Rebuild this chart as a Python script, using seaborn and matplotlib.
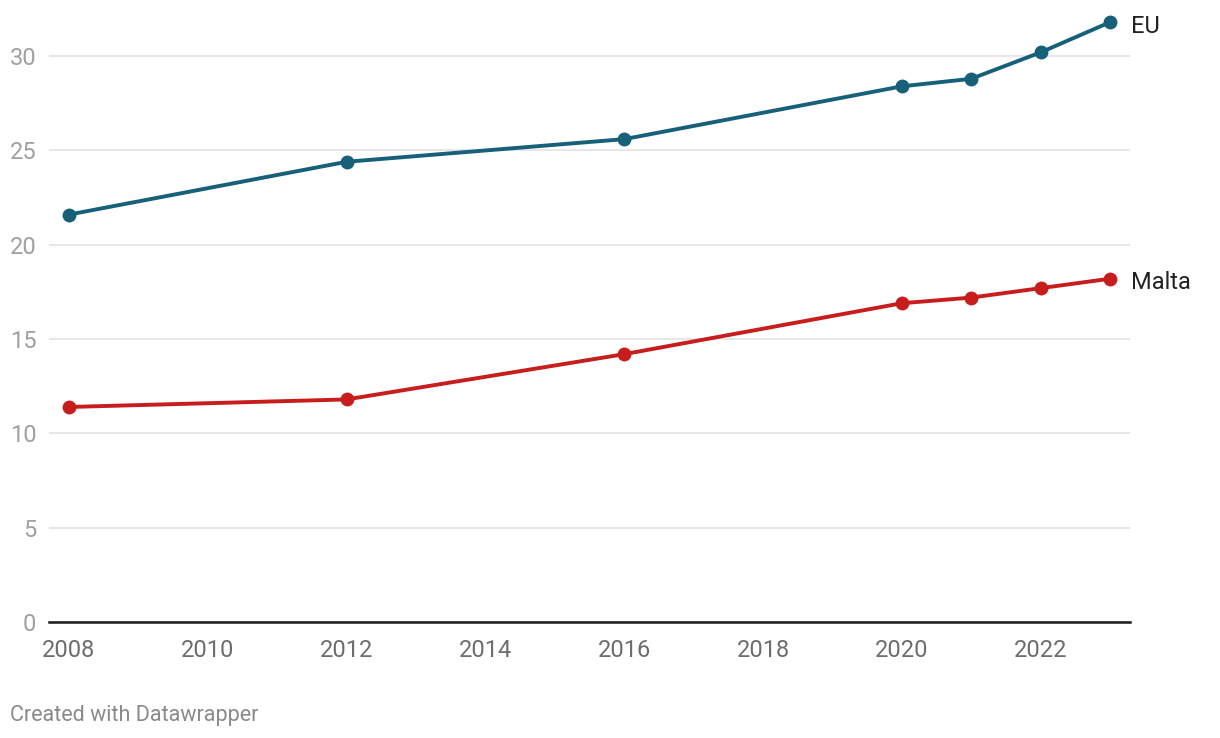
import numpy as np
import pandas as pd
import matplotlib.pyplot as plt
import seaborn as sns

years = [2008, 2012, 2016, 2020, 2021, 2022, 2023]
eu = [21.6, 24.4, 25.6, 28.4, 28.8, 30.2, 31.8]
malta = [11.4, 11.8, 14.2, 16.9, 17.2, 17.7, 18.2]
series_names = ['EU', 'Malta']
colors = {'EU': '#17607a', 'Malta': '#c71e1d'}

df = pd.DataFrame({
    'year': years * 2,
    'value': eu + malta,
    'series': ['EU'] * len(years) + ['Malta'] * len(years),
})

sns.set_style('white')
plt.rcParams['font.family'] = ['Roboto', 'DejaVu Sans']

fig = plt.figure(figsize=(12.2, 7.38), dpi=100)
ax = fig.add_axes([49 / 1220, 116 / 738, (1130 - 49) / 1220, (622 - 9) / 738])

sns.lineplot(data=df, x='year', y='value', hue='series', palette=colors,
             marker='o', markersize=10, markeredgewidth=0, linewidth=2.8,
             legend=False, ax=ax)
for line in ax.lines:
    line.set_clip_on(False)

ax.set_xlim(2007.712, 2023.288)
ax.set_ylim(0, 32.5)
ax.set_yticks([0, 5, 10, 15, 20, 25, 30])
ax.set_xticks(range(2008, 2023, 2))
ax.yaxis.grid(True, color='#e3e3e3', linewidth=1.2)
ax.set_axisbelow(True)
for s in ['top', 'right', 'left']:
    ax.spines[s].set_visible(False)
ax.spines['bottom'].set_color('#1a1a1a')
ax.spines['bottom'].set_linewidth(1.8)
ax.set_xlabel('')
ax.set_ylabel('')
ax.tick_params(axis='y', length=0, pad=9, labelsize=17, labelcolor='#a0a0a0')
ax.tick_params(axis='x', length=0, pad=12, labelsize=17, labelcolor='#6d6d6d')

for name, vals in zip(series_names, [eu, malta]):
    ax.annotate(name, (years[-1], vals[-1]), xytext=(15, -3),
                textcoords='offset points', va='center', ha='left',
                fontsize=17, color='#222222', annotation_clip=False)

fig.text(10 / 1220, 1 - 715 / 738, 'Created with Datawrapper', fontsize=15.5,
         color='#8a8a8a', va='center', ha='left')

fig.savefig('out.png', dpi=100)
